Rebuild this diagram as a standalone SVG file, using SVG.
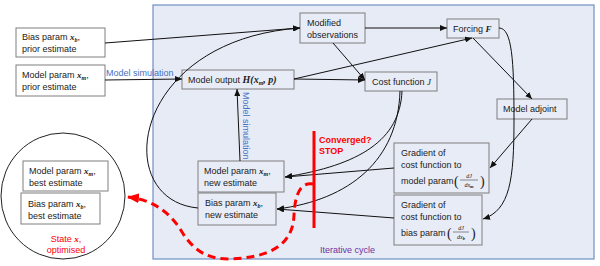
<svg xmlns="http://www.w3.org/2000/svg" width="600" height="266" viewBox="0 0 600 266">
<defs>
<style>
.bx{fill:#ffffff;stroke:#7f7f7f;stroke-width:1}
.bi{fill:#e8ecf7;stroke:#7f7f7f;stroke-width:1}
.t{font-family:"Liberation Sans",Arial,sans-serif;font-size:9px;fill:#222222}
.m{font-family:"Liberation Serif","Times New Roman",serif;font-style:italic;font-weight:bold}
.f{font-family:"Liberation Serif","Times New Roman",serif;font-style:italic;font-size:6px;fill:#222222}
.p{font-family:"Liberation Serif","Times New Roman",serif;font-size:14px;fill:#222222}
.c{fill:none;stroke:#111111;stroke-width:1}
.blue{font-family:"Liberation Sans",Arial,sans-serif;font-size:9px;fill:#4472c4}
.red{font-family:"Liberation Sans",Arial,sans-serif;font-size:9px;fill:#ff0000}
</style>
<marker id="ah" markerWidth="7" markerHeight="6" refX="7" refY="3" orient="auto" markerUnits="userSpaceOnUse">
<path d="M0,0 L7,3 L0,6 z" fill="#111111"/>
</marker>
<marker id="rh" markerWidth="12" markerHeight="10" refX="11" refY="5" orient="auto" markerUnits="userSpaceOnUse">
<path d="M0,0 L12,5 L0,10 z" fill="#ff0000"/>
</marker>
</defs>

<g id="panel">
<rect x="153" y="5" width="441" height="254" fill="#e7ebf6" stroke="#6f8fc4" stroke-width="1.2"/>
<text x="320" y="253" font-family="Liberation Sans, Arial, sans-serif" font-size="9" fill="#7030a0">Iterative cycle</text>
</g>

<g id="state-circle">
<ellipse cx="63" cy="196" rx="62" ry="63" fill="#ffffff" stroke="#222222" stroke-width="1"/>
<text class="red" text-anchor="middle"><tspan x="66" y="242">State <tspan class="m">x</tspan>,</tspan><tspan x="66" y="253">optimised</tspan></text>
</g>

<g id="best-model">
<rect class="bx" x="23" y="161" width="85" height="30"/>
<text class="t"><tspan x="29" y="174">Model param <tspan class="m">x<tspan font-size="6" dy="2">m</tspan></tspan><tspan dy="-2">,</tspan></tspan><tspan x="29" y="186">best estimate</tspan></text>
</g>

<g id="best-bias">
<rect class="bx" x="21" y="193" width="79" height="31"/>
<text class="t"><tspan x="28" y="207">Bias param <tspan class="m">x<tspan font-size="6" dy="2">b</tspan></tspan><tspan dy="-2">,</tspan></tspan><tspan x="28" y="219">best estimate</tspan></text>
</g>

<g id="bias-prior">
<rect class="bx" x="16" y="28" width="89" height="29"/>
<text class="t"><tspan x="22" y="40">Bias param <tspan class="m">x<tspan font-size="6" dy="2">b</tspan></tspan><tspan dy="-2">,</tspan></tspan><tspan x="22" y="52">prior estimate</tspan></text>
</g>

<g id="model-prior">
<rect class="bx" x="16" y="65" width="89" height="31"/>
<text class="t"><tspan x="22" y="78">Model param <tspan class="m">x<tspan font-size="6" dy="2">m</tspan></tspan><tspan dy="-2">,</tspan></tspan><tspan x="22" y="90">prior estimate</tspan></text>
</g>

<g id="modified-obs">
<rect class="bi" x="300" y="13" width="65" height="30"/>
<text class="t"><tspan x="307" y="26">Modified</tspan><tspan x="307" y="38">observations</tspan></text>
</g>

<g id="model-output">
<rect class="bi" x="182" y="70" width="112" height="19"/>
<text class="t" x="188" y="83">Model output <tspan class="m" font-size="10">H(x<tspan font-size="6" dy="2">m</tspan><tspan dy="-2">, p)</tspan></tspan></text>
</g>

<g id="cost-function">
<rect class="bi" x="365" y="72" width="72" height="19"/>
<text class="t" x="372" y="85">Cost function <tspan font-family="Liberation Serif, serif" font-style="italic">J</tspan></text>
</g>

<g id="forcing">
<rect class="bi" x="447" y="19" width="52" height="19"/>
<text class="t" x="453" y="32">Forcing <tspan class="m">F</tspan></text>
</g>

<g id="model-adjoint">
<rect class="bi" x="497" y="99" width="70" height="20"/>
<text class="t" x="503" y="112">Model adjoint</text>
</g>

<g id="grad-model">
<rect class="bi" x="394" y="143" width="95" height="50"/>
<text class="t"><tspan x="401" y="156">Gradient of</tspan><tspan x="401" y="168">cost function to</tspan><tspan x="401" y="184">model param</tspan></text>
<text class="p" x="454" y="186">(</text>
<text class="f" x="469" y="178" text-anchor="middle">dJ</text>
<line x1="460" y1="180" x2="478" y2="180" stroke="#222222" stroke-width="0.5"/>
<text class="f" x="469" y="187" text-anchor="middle">dx<tspan font-size="4.5" font-weight="bold" dy="1">m</tspan></text>
<text class="p" x="480" y="186">)</text>
</g>

<g id="grad-bias">
<rect class="bi" x="394" y="195" width="88" height="50"/>
<text class="t"><tspan x="401" y="208">Gradient of</tspan><tspan x="401" y="220">cost function to</tspan><tspan x="401" y="236">bias param</tspan></text>
<text class="p" x="447" y="238">(</text>
<text class="f" x="461" y="230" text-anchor="middle">dJ</text>
<line x1="453" y1="232" x2="469" y2="232" stroke="#222222" stroke-width="0.5"/>
<text class="f" x="461" y="239" text-anchor="middle">dx<tspan font-size="4.5" font-weight="bold" dy="1">b</tspan></text>
<text class="p" x="471" y="238">)</text>
</g>

<g id="model-new">
<rect class="bi" x="198" y="161" width="86" height="31"/>
<text class="t"><tspan x="204" y="174">Model param <tspan class="m">x<tspan font-size="6" dy="2">m</tspan></tspan><tspan dy="-2">,</tspan></tspan><tspan x="204" y="186">new estimate</tspan></text>
</g>

<g id="bias-new">
<rect class="bi" x="198" y="193" width="78" height="32"/>
<text class="t"><tspan x="205" y="206">Bias param <tspan class="m">x<tspan font-size="6" dy="2">b</tspan></tspan><tspan dy="-2">,</tspan></tspan><tspan x="205" y="218">new estimate</tspan></text>
</g>

<g id="connectors">
<path class="c" d="M105,43 L300,28" marker-end="url(#ah)"/>
<path class="c" d="M105,80 L182,79" marker-end="url(#ah)"/>
<path class="c" d="M198,208 C110,200 130,40 300,28" marker-end="url(#ah)"/>
<path class="c" d="M365,28 L447,28" marker-end="url(#ah)"/>
<path class="c" d="M333,43 L365,80" marker-end="url(#ah)"/>
<path class="c" d="M294,79 L365,80" marker-end="url(#ah)"/>
<path class="c" d="M294,79 L472,38" marker-end="url(#ah)"/>
<path class="c" d="M473,38 L532,99" marker-end="url(#ah)"/>
<path class="c" d="M499,28 C512,28 514,60 514,120 C514,180 510,210 483,219" marker-end="url(#ah)"/>
<path class="c" d="M532,119 L490,168" marker-end="url(#ah)"/>
<path class="c" d="M402,91 C400,140 360,165 285,177" marker-end="url(#ah)"/>
<path class="c" d="M400,91 C398,160 350,200 277,209" marker-end="url(#ah)"/>
<path class="c" d="M394,168 L285,177" marker-end="url(#ah)"/>
<path class="c" d="M394,218 L277,209" marker-end="url(#ah)"/>
<path class="c" d="M240,161 L237,89" marker-end="url(#ah)"/>
<path d="M313,184 C300,182 295,195 294,215 C293,245 270,258 228,259 C205,259 192,248 182,232 C172,215 155,200 128,197" fill="none" stroke="#ff0000" stroke-width="3" stroke-dasharray="8,5" marker-end="url(#rh)"/>
</g>

<g id="labels">
<text class="blue" x="106" y="76">Model simulation</text>
<text class="blue" transform="translate(243,92) rotate(90)">Model simulation</text>
<line x1="314" y1="131" x2="314" y2="228" stroke="#ff0000" stroke-width="3"/>
<text class="red" font-weight="bold"><tspan x="319" y="143">Converged?</tspan><tspan x="319" y="154">STOP</tspan></text>
</g>
</svg>
